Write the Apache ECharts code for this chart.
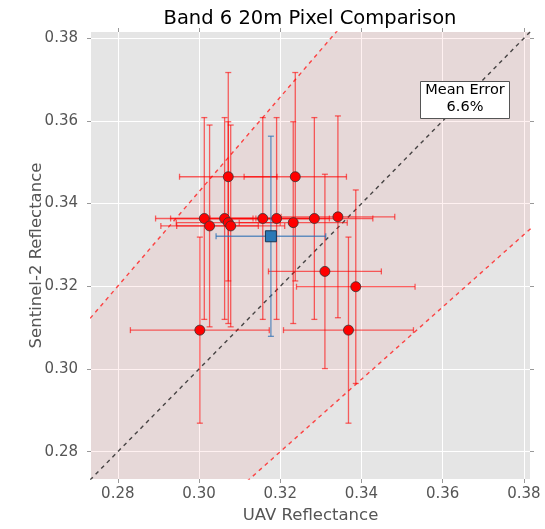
<!DOCTYPE html>
<html>
<head>
<meta charset="utf-8">
<script src="https://cdn.jsdelivr.net/npm/echarts@6/dist/echarts.min.js"></script>
<style>
  html, body { margin: 0; padding: 0; background: #fff; }
  #chart { width: 545px; height: 529px; }
</style>
</head>
<body>
<div id="chart"></div>
<script>
// 数据：UAV 与 Sentinel-2 反射率
var uavVals  = [0.3072, 0.3237, 0.3013, 0.3063, 0.3072, 0.3078, 0.3026, 0.3157,
                0.3191, 0.3232, 0.3284, 0.3342, 0.3310, 0.3386, 0.3002, 0.3368];
var s2Vals   = [0.3465, 0.3465, 0.3364, 0.3364, 0.3354, 0.3346, 0.3346, 0.3364,
                0.3364, 0.3354, 0.3364, 0.3368, 0.3236, 0.3199, 0.3094, 0.3094];
var uavErr   = [0.0120, 0.0126, 0.0120, 0.0133, 0.0128, 0.0133, 0.0120, 0.0130,
                0.0130, 0.0133, 0.0144, 0.0140, 0.0139, 0.0146, 0.0171, 0.0160];
var s2Err    = [0.0252, 0.0252, 0.0244, 0.0244, 0.0244, 0.0244, 0.0244, 0.0244,
                0.0244, 0.0244, 0.0244, 0.0244, 0.0235, 0.0234, 0.0225, 0.0225];
var meanPoint = [0.3177, 0.3321];
var meanErr   = [0.0135, 0.0242];
var axisMin = 0.2734, axisMax = 0.3815;
var tickVals = [0.28, 0.30, 0.32, 0.34, 0.36, 0.38];
var upperSlope = 1.143, lowerSlope = 0.875;   // 误差带
var meanErrorText = '6.6%';

(function() {
    var myChart = echarts.init(document.getElementById('chart'));

    var pts = uavVals.map(function(x, i) { return [x, s2Vals[i], uavErr[i], s2Err[i]]; });
    var meanRow = [[meanPoint[0], meanPoint[1], meanErr[0], meanErr[1]]];

    function line(k) { return [[0.2, 0.2 * k], [0.45, 0.45 * k]]; }

    // 误差带多边形（裁剪到坐标范围）
    var a = axisMin, b = axisMax;
    var band = [[a, a], [a, upperSlope * a], [b / upperSlope, b], [b, b], [b, lowerSlope * b], [a / lowerSlope, a]];

    function errRender(color) {
        return function(params, api) {
            var x = api.value(0), y = api.value(1), xe = api.value(2), ye = api.value(3);
            var l = api.coord([x - xe, y]), r = api.coord([x + xe, y]);
            var t = api.coord([x, y + ye]), bt = api.coord([x, y - ye]);
            var st = { stroke: color, lineWidth: 1.3 };
            var c = 3;
            return {
                type: 'group',
                children: [
                    { type: 'line', shape: { x1: l[0], y1: l[1], x2: r[0], y2: r[1] }, style: st },
                    { type: 'line', shape: { x1: t[0], y1: t[1], x2: bt[0], y2: bt[1] }, style: st },
                    { type: 'line', shape: { x1: l[0], y1: l[1] - c, x2: l[0], y2: l[1] + c }, style: st },
                    { type: 'line', shape: { x1: r[0], y1: r[1] - c, x2: r[0], y2: r[1] + c }, style: st },
                    { type: 'line', shape: { x1: t[0] - c, y1: t[1], x2: t[0] + c, y2: t[1] }, style: st },
                    { type: 'line', shape: { x1: bt[0] - c, y1: bt[1], x2: bt[0] + c, y2: bt[1] }, style: st }
                ]
            };
        };
    }

    var labelStyle = { color: '#555', fontSize: 15, fontFamily: 'DejaVu Sans' };
    var nameStyle = { color: '#555', fontSize: 16.5, fontFamily: 'DejaVu Sans' };
    function mkAxis(pos, show) {
        return {
            type: 'value', position: pos, min: axisMin, max: axisMax,
            axisLine: { show: false },
            axisTick: { show: true, length: 4, customValues: tickVals, lineStyle: { color: '#999' } },
            axisLabel: show ? Object.assign({ customValues: tickVals, margin: pos === 'left' ? 13 : 8,
                formatter: function(v) { return v.toFixed(2); } }, labelStyle) : { show: false },
            splitLine: { show: show, lineStyle: { color: '#fff', width: 1 } }
        };
    }

    var xMain = mkAxis('bottom', true);
    xMain.name = 'UAV Reflectance';
    xMain.nameLocation = 'middle';
    xMain.nameGap = 28;
    xMain.nameMoveOverlap = false;
    xMain.nameTextStyle = nameStyle;
    var yMain = mkAxis('left', true);
    yMain.name = 'Sentinel-2 Reflectance';
    yMain.nameLocation = 'middle';
    yMain.nameGap = 46;
    yMain.nameMoveOverlap = false;
    yMain.nameTextStyle = nameStyle;

    var option = {
        animation: false,
        backgroundColor: '#fff',
        grid: { left: 91, right: 15, top: 32, bottom: 45, show: true,
                backgroundColor: '#e5e5e5', borderWidth: 0 },
        xAxis: [xMain, mkAxis('top', false)],
        yAxis: [yMain, mkAxis('right', false)],
        graphic: [
            { type: 'text', x: 310, y: 19, z: 100,
              style: { text: 'Band 6 20m Pixel Comparison', fontSize: 19.5, fontFamily: 'DejaVu Sans',
                       fill: '#000', align: 'center', verticalAlign: 'middle' } },
            { type: 'rect', shape: { x: 420.5, y: 81.5, width: 89, height: 37 }, z: 100,
              style: { fill: '#fff', stroke: '#555', lineWidth: 1 } },
            { type: 'text', x: 465, y: 99, z: 101,
              style: { text: 'Mean Error\n' + meanErrorText, fontSize: 14.5, fontFamily: 'DejaVu Sans',
                       fill: '#000', align: 'center', verticalAlign: 'middle', lineHeight: 17 } }
        ],
        series: [
            {   // 误差带
                type: 'custom', silent: true, z: 1,
                data: [0],
                renderItem: function(params, api) {
                    return { type: 'polygon',
                             shape: { points: band.map(function(p) { return api.coord(p); }) },
                             style: { fill: 'rgba(255,0,0,0.055)' } };
                }
            },
            { type: 'line', data: line(upperSlope), symbol: 'none', silent: true, z: 2,
              lineStyle: { color: 'rgba(255,40,40,0.85)', width: 1.4, type: [4, 4] } },
            { type: 'line', data: line(lowerSlope), symbol: 'none', silent: true, z: 2,
              lineStyle: { color: 'rgba(255,40,40,0.85)', width: 1.4, type: [4, 4] } },
            { type: 'line', data: line(1), symbol: 'none', silent: true, z: 2,
              lineStyle: { color: 'rgba(30,30,30,0.8)', width: 1.4, type: [4, 4] } },
            { type: 'custom', data: pts, z: 3, renderItem: errRender('rgba(255,0,0,0.6)'),
              encode: { x: 0, y: 1 } },
            { type: 'scatter', data: pts, z: 4, symbol: 'circle', symbolSize: 10,
              itemStyle: { color: '#ff0000', borderColor: '#333', borderWidth: 0.8, opacity: 1 } },
            { type: 'custom', data: meanRow, z: 5, renderItem: errRender('rgba(40,110,180,0.7)'),
              encode: { x: 0, y: 1 } },
            { type: 'scatter', data: meanRow, z: 6, symbol: 'rect', symbolSize: 11,
              itemStyle: { color: '#2a78b6', borderColor: '#1a3550', borderWidth: 1, opacity: 1 } }
        ]
    };

    myChart.setOption(option);

    window.addEventListener('resize', function() {
        myChart.resize();
    });
})();
</script>
</body>
</html>
